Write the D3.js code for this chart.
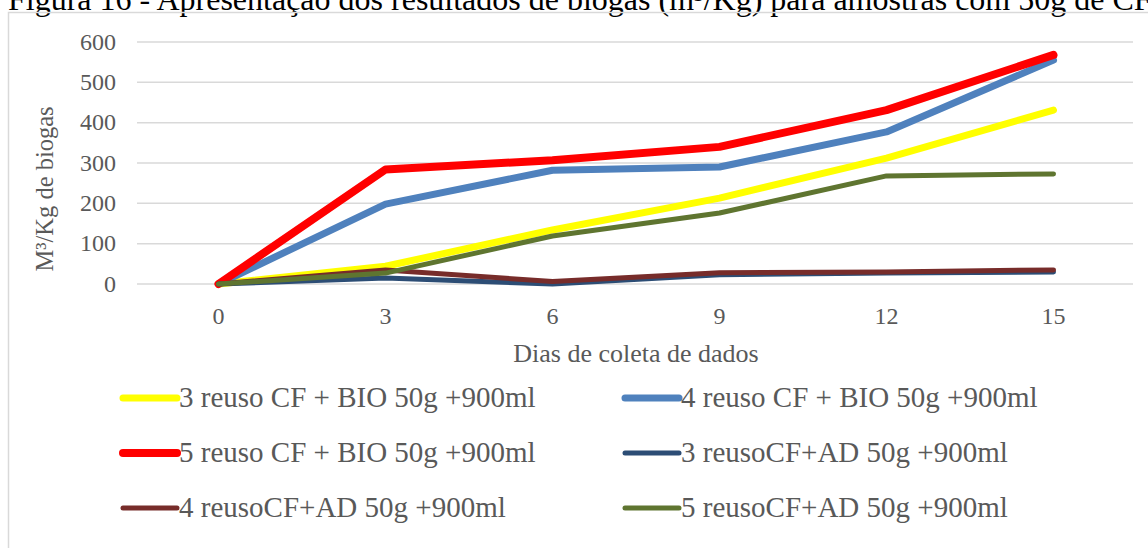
<!DOCTYPE html>
<html><head><meta charset="utf-8">
<script src="https://cdn.jsdelivr.net/npm/d3@7"></script>
<style>body{margin:0;background:#fff;}svg{display:block;}</style>
</head><body>
<svg id="c" width="1148" height="548"></svg>
<script>
const days = ["0","3","6","9","12","15"];
const yTicks = [0,100,200,300,400,500,600];
const seriesNames = [
  "3 reuso CF + BIO 50g +900ml",
  "4 reuso CF + BIO 50g +900ml",
  "5 reuso CF + BIO 50g +900ml",
  "3 reusoCF+AD 50g +900ml",
  "4 reusoCF+AD 50g +900ml",
  "5 reusoCF+AD 50g +900ml"
];
const s1 = [0, 44, 134, 213, 312, 431];
const s2 = [0, 198, 282, 290, 377, 555];
const s3 = [0, 284, 307, 340, 431, 568];
const s4 = [0, 15, 0, 23, 27, 30];
const s5 = [0, 35, 6, 28, 30, 35];
const s6 = [0, 27, 119, 176, 268, 273];
const colors = ["#FFFF00","#4F81BD","#FF0000","#2C4D75","#772C2A","#5F7530"];
const widths = [7,7,8,5,5,5];
const allValues = [s1,s2,s3,s4,s5,s6];

const svg = d3.select("#c");
const serif = "'Liberation Serif','Times New Roman',serif";

// title (cut off at top, as in the source figure)
svg.append("text").attr("x",8).attr("y",10).attr("font-family",serif).attr("font-size",32)
  .attr("fill","#000").text("Figura 16 - Apresentação dos resultados de biogas (m³/Kg) para amostras com 50g de CF");

// chart border
svg.append("rect").attr("x",8.5).attr("y",12.5).attr("width",1160).attr("height",560)
  .attr("fill","none").attr("stroke","#D9D9D9").attr("stroke-width",1.5);

const x = d3.scaleBand().domain(days).range([135,1137]);
const y = d3.scaleLinear().domain([0,600]).range([284,42]);

// gridlines
svg.append("g").selectAll("line").data(yTicks).join("line")
  .attr("x1",137).attr("x2",1133).attr("y1",d=>y(d)).attr("y2",d=>y(d))
  .attr("stroke","#D9D9D9").attr("stroke-width",1.5);

// y axis
const ya = svg.append("g").attr("transform","translate(137,0)")
  .call(d3.axisLeft(y).tickValues(yTicks).tickSize(0).tickPadding(21));
ya.select(".domain").remove();
ya.selectAll("text").attr("font-family",serif).attr("font-size",24).attr("fill","#595959").attr("dy","0.3em");

// x axis
const xa = svg.append("g").attr("transform","translate(0,299)")
  .call(d3.axisBottom(x).tickSize(0).tickPadding(8));
xa.select(".domain").remove();
xa.selectAll("text").attr("font-family",serif).attr("font-size",24).attr("fill","#595959");

// axis titles
svg.append("text").attr("x",636).attr("y",362).attr("text-anchor","middle")
  .attr("font-family",serif).attr("font-size",26).attr("fill","#595959").text("Dias de coleta de dados");
svg.append("text").attr("transform","translate(53,189) rotate(-90)").attr("text-anchor","middle")
  .attr("font-family",serif).attr("font-size",24.5).attr("fill","#595959").text("M³/Kg de biogas");

// lines
const line = d3.line().x((d,i)=>x(days[i])+x.bandwidth()/2).y(d=>y(d));
allValues.forEach((vals,k)=>{
  svg.append("path").datum(vals).attr("d",line).attr("fill","none")
    .attr("stroke",colors[k]).attr("stroke-width",widths[k])
    .attr("stroke-linejoin","round").attr("stroke-linecap","round");
});

// legend
const legX = [120,622];
const legY = [398,453,508];
seriesNames.forEach((n,k)=>{
  const lx = legX[k%2], ly = legY[Math.floor(k/2)];
  svg.append("line").attr("x1",lx+3).attr("x2",lx+57).attr("y1",ly).attr("y2",ly)
    .attr("stroke",colors[k]).attr("stroke-width",widths[k]).attr("stroke-linecap","round");
  svg.append("text").attr("x",lx+59).attr("y",ly+9).attr("font-family",serif)
    .attr("font-size",29).attr("fill","#595959").text(n);
});
</script>
</body></html>
